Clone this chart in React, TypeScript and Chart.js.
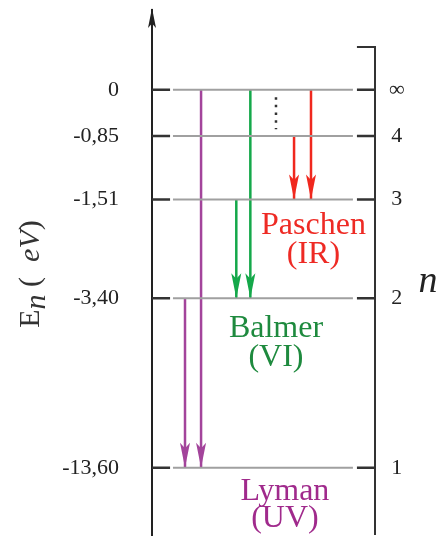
import React, { useEffect, useRef } from "react";
import { Chart, registerables } from "chart.js";

Chart.register(...registerables);

// ---- data ----
const levelN = ["∞", "4", "3", "2", "1"];
const levelEnergy = ["0", "-0,85", "-1,51", "-3,40", "-13,60"];
// schematic height of each level on the diagram (0–100 vertical units)
const levelHeight = [84.8, 76.0, 63.9, 45.1, 12.8];

const seriesNames = ["Paschen", "Balmer", "Lyman"];
const seriesBands = ["(IR)", "(VI)", "(UV)"];

// transitions (level indexes) and horizontal slot of each arrow (0–100)
const paschenFrom = [0, 1];
const paschenTo = 2;
const paschenX = [71.3, 63.7];
const balmerFrom = [0, 2];
const balmerTo = 3;
const balmerX = [44.1, 37.8];
const lymanFrom = [0, 3];
const lymanTo = 4;
const lymanX = [22.0, 14.8];

// ---- layout / style constants ----
const SERIF = "'Liberation Serif', 'Times New Roman', Times, serif";
const arrowColors = ["#f0281e", "#14a84a", "#a3449b"];
const textColors = ["#ee2a24", "#1e8a3e", "#a02a8c"];
const labelPos = [
  { x: 72.4, y1: 57.3, y2: 51.8 },
  { x: 55.6, y1: 37.7, y2: 32.2 },
  { x: 59.6, y1: 6.7, y2: 1.5 },
];
const GRAY_START = 9.4;
const GRAY_END = 90.1;
const TICK_L_END = 8.1;
const TICK_R_START = 91.9;
const BRACKET_TOP = 92.95;
const DOTS_X = 55.6;
const DOTS_TOP = 83.4;
const DOTS_BOTTOM = 77.3;

function drawHead(ctx, ax, ay, bx, by, color, len, half) {
  const dx = bx - ax, dy = by - ay;
  const d = Math.hypot(dx, dy) || 1;
  const ux = dx / d, uy = dy / d;
  const px = -uy, py = ux;
  const baseX = bx - ux * len, baseY = by - uy * len;
  const notchX = bx - ux * len * 0.78, notchY = by - uy * len * 0.78;
  ctx.fillStyle = color;
  ctx.beginPath();
  ctx.moveTo(bx, by);
  ctx.lineTo(baseX + px * half, baseY + py * half);
  ctx.lineTo(notchX, notchY);
  ctx.lineTo(baseX - px * half, baseY - py * half);
  ctx.closePath();
  ctx.fill();
}

const diagramPlugin = {
  id: "diagram",
  afterDatasetsDraw(chart) {
    const ctx = chart.ctx;
    const xS = chart.scales.x;
    const yS = chart.scales.y;
    const area = chart.chartArea;
    ctx.save();
    // arrow heads
    chart.data.datasets.forEach((ds, i) => {
      if (!ds.arrow) return;
      const pts = chart.getDatasetMeta(i).data;
      const a = pts[0], b = pts[pts.length - 1];
      drawHead(ctx, a.x, a.y, b.x, b.y, ds.borderColor, 25, 5);
    });
    // energy axis arrow
    drawHead(ctx, area.left, area.bottom, area.left, area.top - 2, "#222", 20, 4);
    // right bracket for n
    const bx = xS.getPixelForValue(100);
    const by = yS.getPixelForValue(BRACKET_TOP);
    ctx.strokeStyle = "#333";
    ctx.lineWidth = 2;
    ctx.beginPath();
    ctx.moveTo(xS.getPixelForValue(TICK_R_START), by);
    ctx.lineTo(bx, by);
    ctx.lineTo(bx, area.bottom);
    ctx.stroke();
    // series labels
    ctx.textAlign = "center";
    ctx.textBaseline = "alphabetic";
    seriesNames.forEach((name, k) => {
      const p = labelPos[k];
      ctx.fillStyle = textColors[k];
      ctx.font = `32px ${SERIF}`;
      ctx.fillText(name, xS.getPixelForValue(p.x), yS.getPixelForValue(p.y1));
      ctx.fillText(seriesBands[k], xS.getPixelForValue(p.x), yS.getPixelForValue(p.y2));
    });
    // "n" on the right
    ctx.fillStyle = "#222";
    ctx.font = `italic 38px ${SERIF}`;
    ctx.textAlign = "center";
    ctx.fillText("n", 428, 292);
    // E_n (eV) rotated title
    ctx.translate(39, 274);
    ctx.rotate(-Math.PI / 2);
    const parts = [
      { t: "E", f: `30px ${SERIF}`, dy: 0 },
      { t: "n", f: `italic 30px ${SERIF}`, dy: 6 },
      { t: " (  ", f: `30px ${SERIF}`, dy: 0 },
      { t: "eV", f: `italic 30px ${SERIF}`, dy: 0 },
      { t: ")", f: `30px ${SERIF}`, dy: 0 },
    ];
    let total = 0;
    parts.forEach((p) => {
      ctx.font = p.f;
      total += ctx.measureText(p.t).width;
    });
    let cx = -total / 2;
    ctx.textAlign = "left";
    ctx.fillStyle = "#333";
    parts.forEach((p) => {
      ctx.font = p.f;
      ctx.fillText(p.t, cx, p.dy);
      cx += ctx.measureText(p.t).width;
    });
    ctx.restore();
  },
};

function buildDatasets() {
  const ds: any[] = [];
  const gray: any[] = [];
  const black: any[] = [];
  levelHeight.forEach((h) => {
    gray.push({ x: GRAY_START, y: h }, { x: GRAY_END, y: h }, { x: GRAY_END, y: null });
    black.push({ x: 0, y: h }, { x: TICK_L_END, y: h }, { x: TICK_L_END, y: null });
    black.push({ x: TICK_R_START, y: h }, { x: 100, y: h }, { x: 100, y: null });
  });
  ds.push({ data: gray, borderColor: "#a0a0a0", borderWidth: 2, spanGaps: false, clip: false });
  ds.push({ data: black, borderColor: "#333", borderWidth: 2.5, spanGaps: false, clip: false });
  ds.push({
    data: [
      { x: DOTS_X, y: DOTS_TOP },
      { x: DOTS_X, y: DOTS_BOTTOM },
    ],
    borderColor: "#333",
    borderWidth: 2.5,
    borderDash: [2.5, 5.2],
  });
  const groups = [
    { from: paschenFrom, to: paschenTo, xs: paschenX, c: arrowColors[0] },
    { from: balmerFrom, to: balmerTo, xs: balmerX, c: arrowColors[1] },
    { from: lymanFrom, to: lymanTo, xs: lymanX, c: arrowColors[2] },
  ];
  groups.forEach((g) => {
    g.from.forEach((f, k) => {
      ds.push({
        data: [
          { x: g.xs[k], y: levelHeight[f] },
          { x: g.xs[k], y: levelHeight[g.to] },
        ],
        borderColor: g.c,
        borderWidth: 2.5,
        arrow: true,
      });
    });
  });
  return ds;
}

export default function App() {
  const ref = useRef<HTMLCanvasElement>(null);
  useEffect(() => {
    if (!ref.current) return;
    const levelTicks = (scale) => {
      scale.ticks = levelHeight.map((v) => ({ value: v }));
    };
    const fitTo = (w) => (s) => {
      s.width = w;
      s.paddingTop = 0;
      s.paddingBottom = 0;
    };
    const chart = new Chart(ref.current, {
      type: "line",
      data: { datasets: buildDatasets() },
      options: {
        animation: false,
        responsive: false,
        layout: { padding: { top: 10, bottom: 2, left: 0, right: 0 } },
        elements: { point: { radius: 0, hoverRadius: 0 }, line: { tension: 0, borderCapStyle: "butt" } },
        plugins: { legend: { display: false }, tooltip: { enabled: false } },
        events: [],
        scales: {
          x: { type: "linear", min: 0, max: 100, display: false },
          y: {
            type: "linear",
            position: "left",
            min: 0,
            max: 100,
            afterBuildTicks: levelTicks,
            afterFit: fitTo(152),
            grid: { display: false, drawTicks: false },
            border: { display: true, color: "#222", width: 2 },
            ticks: {
              autoSkip: false,
              padding: 33,
              color: "#222",
              font: { family: SERIF, size: 22 },
              callback: (_v, i) => levelEnergy[i],
            },
          },
          y2: {
            type: "linear",
            position: "right",
            min: 0,
            max: 100,
            afterBuildTicks: levelTicks,
            afterFit: fitTo(71),
            grid: { display: false, drawTicks: false },
            border: { display: false },
            ticks: {
              autoSkip: false,
              padding: 14,
              crossAlign: "center",
              color: "#222",
              font: { family: SERIF, size: 22 },
              callback: (_v, i) => levelN[i],
            },
          },
        },
      },
      plugins: [diagramPlugin],
    });
    return () => chart.destroy();
  }, []);
  return (
    <div style={{ position: "absolute", left: 0, top: 0, width: 446, height: 537, background: "#fff" }}>
      <canvas ref={ref} width={446} height={537} style={{ display: "block" }} />
    </div>
  );
}
